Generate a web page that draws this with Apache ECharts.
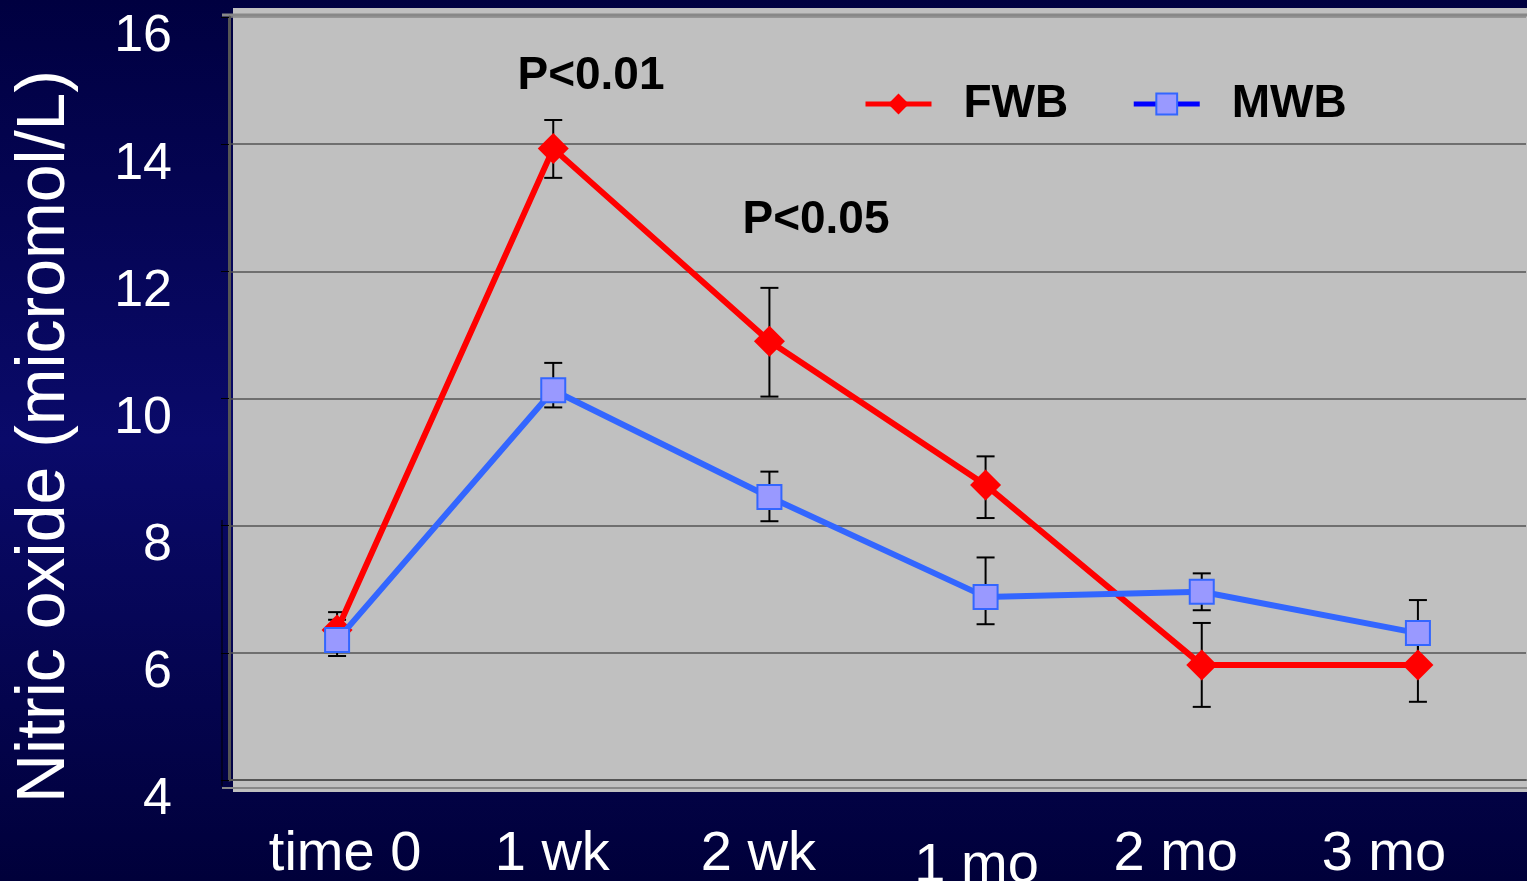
<!DOCTYPE html>
<html>
<head>
<meta charset="utf-8">
<title>Nitric oxide</title>
<script src="https://cdn.jsdelivr.net/npm/echarts@6/dist/echarts.min.js"></script>
<style>
  html, body { margin: 0; padding: 0; }
  #chart { width: 1527px; height: 881px; }
</style>
</head>
<body>
<div id="chart"></div>
<script>
// data
const categories = ['time 0', '1 wk', '2 wk', '1 mo', '2 mo', '3 mo']
const yTicks = [4, 6, 8, 10, 12, 14, 16]
const fwbValues = [6.36, 13.93, 10.9, 8.64, 5.81, 5.81]
const fwbLow = [6.1, 13.47, 10.03, 8.12, 5.15, 5.23]
const fwbHigh = [6.64, 14.38, 11.74, 9.09, 6.47, 6.4]
const mwbValues = [6.2, 10.13, 8.45, 6.88, 6.96, 6.31]
const mwbLow = [5.95, 9.86, 8.07, 6.45, 6.67, 5.85]
const mwbHigh = [6.52, 10.56, 8.85, 7.5, 7.25, 6.83]

// labels in the original sit a bit off their category centre (px, + = right / down)
const labelShiftX = [8, -1, -11, -9, -26, -34]
const labelShiftY = [0, 0, 0, 6, 0, 0]

const font = 'Liberation Sans'
const chart = echarts.init(document.getElementById('chart'))

// vertical bar with caps, drawn through the axes
const errorBars = (low, high) => ({
  type: 'custom',
  silent: true,
  z: 1,
  renderItem: (params, api) => {
    const i = api.value(0)
    const lo = api.coord([i, api.value(1)])
    const hi = api.coord([i, api.value(2)])
    const w = 9
    const st = { stroke: '#000', lineWidth: 2 }
    return {
      type: 'group',
      children: [
        { type: 'line', shape: { x1: lo[0], y1: lo[1], x2: hi[0], y2: hi[1] }, style: st },
        { type: 'line', shape: { x1: lo[0] - w, y1: lo[1], x2: lo[0] + w, y2: lo[1] }, style: st },
        { type: 'line', shape: { x1: hi[0] - w, y1: hi[1], x2: hi[0] + w, y2: hi[1] }, style: st }
      ]
    }
  },
  data: categories.map((c, i) => [i, low[i], high[i]])
})

const xLabels = categories.map((c, i) => {
  const dx = labelShiftX[i], dy = labelShiftY[i]
  return {
    value: c,
    textStyle: { padding: [dy > 0 ? dy * 2 : 0, dx < 0 ? -dx * 2 : 0, 0, dx > 0 ? dx * 2 : 0] }
  }
})

let option = {
  backgroundColor: {
    type: 'linear', x: 0, y: 0, x2: 0, y2: 1,
    colorStops: [
      { offset: 0, color: '#000040' },
      { offset: 0.5, color: '#0a0a6a' },
      { offset: 1, color: '#00003a' }
    ]
  },
  animation: false,
  grid: { left: 229, right: 1, top: 17, bottom: 101, outerBoundsMode: 'none', containLabel: false },
  legend: {
    left: 858,
    top: 76,
    itemWidth: 66,
    itemHeight: 26,
    itemGap: 63,
    textStyle: { fontFamily: font, fontSize: 46, fontWeight: 'bold', color: '#000', padding: [0, 0, 0, 27] },
    data: [
      { name: 'FWB', lineStyle: { width: 5 } },
      { name: 'MWB', lineStyle: { color: '#0000ff', width: 5 } }
    ]
  },
  xAxis: {
    type: 'category',
    data: xLabels,
    axisLine: { show: true, lineStyle: { color: '#555', width: 2 } },
    axisTick: { show: false },
    axisLabel: { color: '#fff', fontFamily: font, fontSize: 56, margin: 47 }
  },
  yAxis: {
    type: 'value',
    min: yTicks[0],
    max: yTicks[yTicks.length - 1],
    interval: 2,
    name: 'Nitric oxide (micromol/L)',
    nameLocation: 'middle',
    nameRotate: 90,
    nameGap: 150,
    nameTextStyle: { color: '#fff', fontFamily: font, fontSize: 68, padding: [0, 76, 0, 0] },
    axisLine: { show: true, lineStyle: { color: '#555', width: 3 } },
    axisTick: { show: true, length: 8, lineStyle: { color: '#000', width: 1 } },
    axisLabel: {
      color: '#fff', fontFamily: font, fontSize: 52, margin: 57,
      verticalAlign: 'top', lineHeight: 40
    },
    splitLine: {
      lineStyle: { color: ['#555', '#555', '#555', '#555', '#555', '#555', '#888'], width: 1.5 }
    }
  },
  graphic: [
    { type: 'rect', z: -10, silent: true, shape: { x: 233, y: 8, width: 1294, height: 784 }, style: { fill: '#c0c0c0' } },
    { type: 'line', z: -5, silent: true, shape: { x1: 222, y1: 15, x2: 1527, y2: 15 }, style: { stroke: '#888', lineWidth: 3 } },
    { type: 'line', z: -5, silent: true, shape: { x1: 222, y1: 788, x2: 1527, y2: 788 }, style: { stroke: '#888', lineWidth: 2 } },
    { type: 'line', z: -5, silent: true, shape: { x1: 222, y1: 520, x2: 222, y2: 786 }, style: { stroke: '#000', lineWidth: 1 } },
    {
      type: 'text', x: 591, y: 76, silent: true,
      style: { text: 'P<0.01', font: 'bold 46px "Liberation Sans"', fill: '#000', align: 'center', verticalAlign: 'middle' }
    },
    {
      type: 'text', x: 816, y: 220, silent: true,
      style: { text: 'P<0.05', font: 'bold 46px "Liberation Sans"', fill: '#000', align: 'center', verticalAlign: 'middle' }
    }
  ],
  series: [
    errorBars(fwbLow, fwbHigh),
    errorBars(mwbLow, mwbHigh),
    {
      name: 'FWB',
      type: 'line',
      data: fwbValues,
      symbol: 'diamond',
      symbolSize: 31,
      itemStyle: { color: '#ff0000' },
      lineStyle: { color: '#ff0000', width: 6 },
      z: 3
    },
    {
      name: 'MWB',
      type: 'line',
      data: mwbValues,
      symbol: 'rect',
      symbolSize: 24,
      itemStyle: { color: '#9999ff', borderColor: '#3366ff', borderWidth: 2 },
      lineStyle: { color: '#3366ff', width: 6 },
      z: 4
    }
  ]
}

option && chart.setOption(option)
</script>
</body>
</html>
